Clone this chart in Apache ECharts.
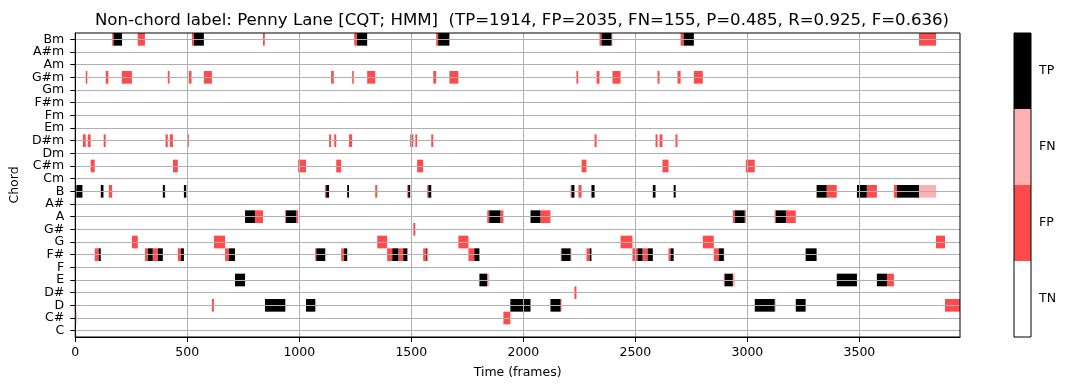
<!DOCTYPE html>
<html>
<head>
<meta charset="utf-8">
<script src="https://cdn.jsdelivr.net/npm/echarts@6/dist/echarts.min.js"></script>
<style>html,body{margin:0;padding:0;background:#fff;}#c{width:1068px;height:390px;}</style>
</head>
<body>
<div id="c"></div>
<script>
// ---- data ----
const chordCategories = ['C','C#','D','D#','E','F','F#','G','G#','A','A#','B',
  'Cm','C#m','Dm','D#m','Em','Fm','F#m','Gm','G#m','Am','A#m','Bm'];
const outcomeLabels = ['TN','FP','FN','TP'];
const xTickValues = [0,500,1000,1500,2000,2500,3000,3500];
const totalFrames = 3949;
const titleText = 'Non-chord label: Penny Lane [CQT; HMM]  (TP=1914, FP=2035, FN=155, P=0.485, R=0.925, F=0.636)';

// [chord, startFrame, endFrame]
const tpSegments = [
  ['Bm',171,209],['Bm',530,574],['Bm',1258,1303],['Bm',1620,1670],['Bm',2349,2394],['Bm',2716,2761],
  ['B',5,32],['B',114,126],['B',391,400],['B',485,495],['B',1120,1133],['B',1214,1222],['B',1486,1495],
  ['B',1576,1589],['B',2215,2228],['B',2304,2318],['B',2578,2590],['B',2671,2680],['B',3309,3354],
  ['B',3489,3533],['B',3668,3766],
  ['A',758,802],['A',941,986],['A',1848,1897],['A',2032,2076],['A',2944,2988],['A',3127,3172],
  ['F#',105,114],['F#',324,346],['F#',369,391],['F#',472,485],['F#',686,713],['F#',1076,1115],
  ['F#',1200,1214],['F#',1415,1442],['F#',1464,1482],['F#',1567,1571],['F#',1781,1804],['F#',2170,2211],
  ['F#',2296,2304],['F#',2510,2532],['F#',2555,2578],['F#',2657,2671],['F#',2872,2895],['F#',3260,3309],
  ['E',713,758],['E',1804,1839],['E',2899,2935],['E',3399,3489],['E',3578,3623],
  ['D',847,937],['D',1030,1071],['D',1942,2032],['D',2121,2166],['D',3033,3122],['D',3216,3260]
];
const fpSegments = [
  ['Bm',165,171],['Bm',279,311],['Bm',521,530],['Bm',838,846],['Bm',1245,1258],['Bm',1611,1620],
  ['Bm',2340,2349],['Bm',2702,2716],['Bm',3766,3842],
  ['G#m',47,54],['G#m',136,148],['G#m',208,253],['G#m',413,421],['G#m',507,519],['G#m',574,610],
  ['G#m',1142,1154],['G#m',1236,1243],['G#m',1303,1339],['G#m',1598,1611],['G#m',1670,1710],
  ['G#m',2237,2245],['G#m',2327,2340],['G#m',2398,2434],['G#m',2599,2608],['G#m',2688,2702],['G#m',2761,2801],
  ['D#m',34,47],['D#m',56,69],['D#m',127,136],['D#m',403,413],['D#m',422,436],['D#m',503,507],
  ['D#m',1133,1142],['D#m',1156,1165],['D#m',1222,1236],['D#m',1495,1509],['D#m',1518,1526],
  ['D#m',1589,1598],['D#m',2318,2327],['D#m',2590,2599],['D#m',2608,2621],['D#m',2679,2688],
  ['C#m',69,87],['C#m',436,458],['C#m',995,1030],['C#m',1165,1187],['C#m',1526,1553],['C#m',2260,2282],
  ['C#m',2621,2648],['C#m',2993,3033],
  ['B',150,165],['B',1115,1120],['B',1339,1348],['B',1482,1486],['B',1571,1576],['B',2211,2215],
  ['B',2246,2260],['B',3354,3399],['B',3533,3578],['B',3654,3668],
  ['A',802,838],['A',937,941],['A',986,995],['A',1839,1848],['A',1897,1911],['A',2076,2121],
  ['A',2935,2944],['A',2988,2993],['A',3122,3127],['A',3172,3216],
  ['G#',1509,1518],
  ['G',253,279],['G',619,669],['G',1348,1392],['G',1710,1755],['G',2434,2487],['G',2801,2850],['G',3842,3882],
  ['F#',87,105],['F#',311,324],['F#',346,369],['F#',458,472],['F#',669,686],['F#',1071,1076],
  ['F#',1187,1200],['F#',1392,1415],['F#',1442,1464],['F#',1553,1567],['F#',1755,1781],['F#',2282,2296],
  ['F#',2487,2510],['F#',2532,2555],['F#',2648,2657],['F#',2850,2872],
  ['E',2895,2899],['E',3623,3654],
  ['D#',2228,2237],
  ['D',610,619],['D',2166,2170],['D',3882,3949],
  ['C#',0,5],['C#',1911,1942]
];
const fnSegments = [
  ['Bm',2394,2398],
  ['B',400,403],['B',495,498],['B',3766,3842],
  ['F#',1115,1120],['F#',1482,1486],['F#',1571,1576],['F#',2166,2170],['F#',2211,2215],['F#',2895,2897],
  ['E',1839,1848],['E',2935,2944],
  ['D',937,941],['D',1071,1075],['D',3122,3127]
];

// ---- styles ----
const outcomeColors = ['#ffffff', '#ff4b4b', '#ffb0b0', '#000000'];
const FONT = 'DejaVu Sans';
const TICK_FS = 12.5;

function toItems(list, typeIdx) {
  return list.map(s => [s[1], s[2], chordCategories.indexOf(s[0]), typeIdx]);
}
const cellData = [].concat(toItems(fpSegments, 1), toItems(fnSegments, 2), toItems(tpSegments, 3));

function renderCell(params, api) {
  const row = api.value(2);
  const p0 = api.coord([api.value(0), row]);
  const p1 = api.coord([api.value(1), row]);
  const h = api.size([0, 1])[1];
  return {
    type: 'rect',
    shape: { x: p0[0], y: p0[1] - h / 2, width: p1[0] - p0[0], height: h },
    style: { fill: outcomeColors[api.value(3)] }
  };
}

// grid lines through row centres and at the x ticks (drawn on top, like the reference)
const hLineData = chordCategories.map((c, i) => ({ yAxis: i }));
const vLineData = xTickValues.filter(v => v > 0).map(v => ({ xAxis: v }));

const chart = echarts.init(document.getElementById('c'), null, { renderer: 'canvas' });
chart.setOption({
  animation: false,
  backgroundColor: '#ffffff',
  textStyle: { fontFamily: FONT },
  title: {
    text: titleText, left: 517, top: 7, textAlign: 'center',
    textStyle: { fontFamily: FONT, fontSize: 16.6, fontWeight: 'normal', color: '#000' }
  },
  grid: [
    { left: 75, right: 108, top: 33, bottom: 53, show: true, z: 6,
      backgroundColor: 'transparent', borderColor: '#000', borderWidth: 1 },
    { left: 1014, width: 17, top: 33, bottom: 53, show: true, z: 6,
      backgroundColor: 'transparent', borderColor: '#000', borderWidth: 1 }
  ],
  xAxis: [
    { type: 'value', gridIndex: 0, min: 0, max: totalFrames, interval: 500,
      name: 'Time (frames)', nameLocation: 'middle', nameGap: 29,
      nameTextStyle: { fontFamily: FONT, fontSize: TICK_FS, color: '#000' },
      axisLine: { show: true, lineStyle: { color: '#000', width: 1 } },
      axisTick: { show: true, length: 5, lineStyle: { color: '#000' } },
      axisLabel: { fontFamily: FONT, fontSize: TICK_FS, color: '#000', margin: 9,
        showMaxLabel: false, formatter: v => (v % 500 === 0 ? String(v) : '') },
      splitLine: { show: false } },
    { type: 'value', gridIndex: 1, min: 0, max: 1, show: false }
  ],
  yAxis: [
    { type: 'category', gridIndex: 0, data: chordCategories, boundaryGap: true,
      name: 'Chord', nameLocation: 'middle', nameGap: 51, nameRotate: 90,
      nameTextStyle: { fontFamily: FONT, fontSize: TICK_FS, color: '#000' },
      axisLine: { show: true, lineStyle: { color: '#000', width: 1 } },
      axisTick: { show: true, alignWithLabel: true, length: 5, lineStyle: { color: '#000' } },
      axisLabel: { fontFamily: FONT, fontSize: TICK_FS, color: '#000', margin: 11, interval: 0 },
      splitLine: { show: false } },
    { type: 'category', gridIndex: 1, data: outcomeLabels, boundaryGap: true, position: 'right',
      axisLine: { show: true, lineStyle: { color: '#000', width: 1 } },
      axisTick: { show: true, alignWithLabel: true, length: 5, lineStyle: { color: '#000' } },
      axisLabel: { fontFamily: FONT, fontSize: TICK_FS, color: '#000', margin: 8 },
      splitLine: { show: false } }
  ],
  series: [
    {
      type: 'custom', xAxisIndex: 0, yAxisIndex: 0,
      renderItem: renderCell,
      dimensions: [
        { name: 'start', type: 'number' }, { name: 'end', type: 'number' },
        { name: 'row', type: 'number' }, { name: 'kind', type: 'number' }
      ],
      encode: { x: [0, 1], y: 2 },
      data: cellData,
      silent: true
    },
    {
      type: 'line', xAxisIndex: 0, yAxisIndex: 0, data: [], silent: true, z: 5,
      markLine: {
        silent: true, symbol: ['none', 'none'], animation: false,
        label: { show: false },
        lineStyle: { color: '#b0b0b0', width: 1, type: 'solid' },
        emphasis: { disabled: true },
        data: hLineData.concat(vLineData)
      }
    },
    {
      type: 'bar', xAxisIndex: 1, yAxisIndex: 1, barWidth: '100%', barCategoryGap: '0%',
      silent: true,
      data: outcomeLabels.map((l, i) => ({ value: 1, itemStyle: { color: outcomeColors[i] } }))
    }
  ]
});
</script>
</body>
</html>
